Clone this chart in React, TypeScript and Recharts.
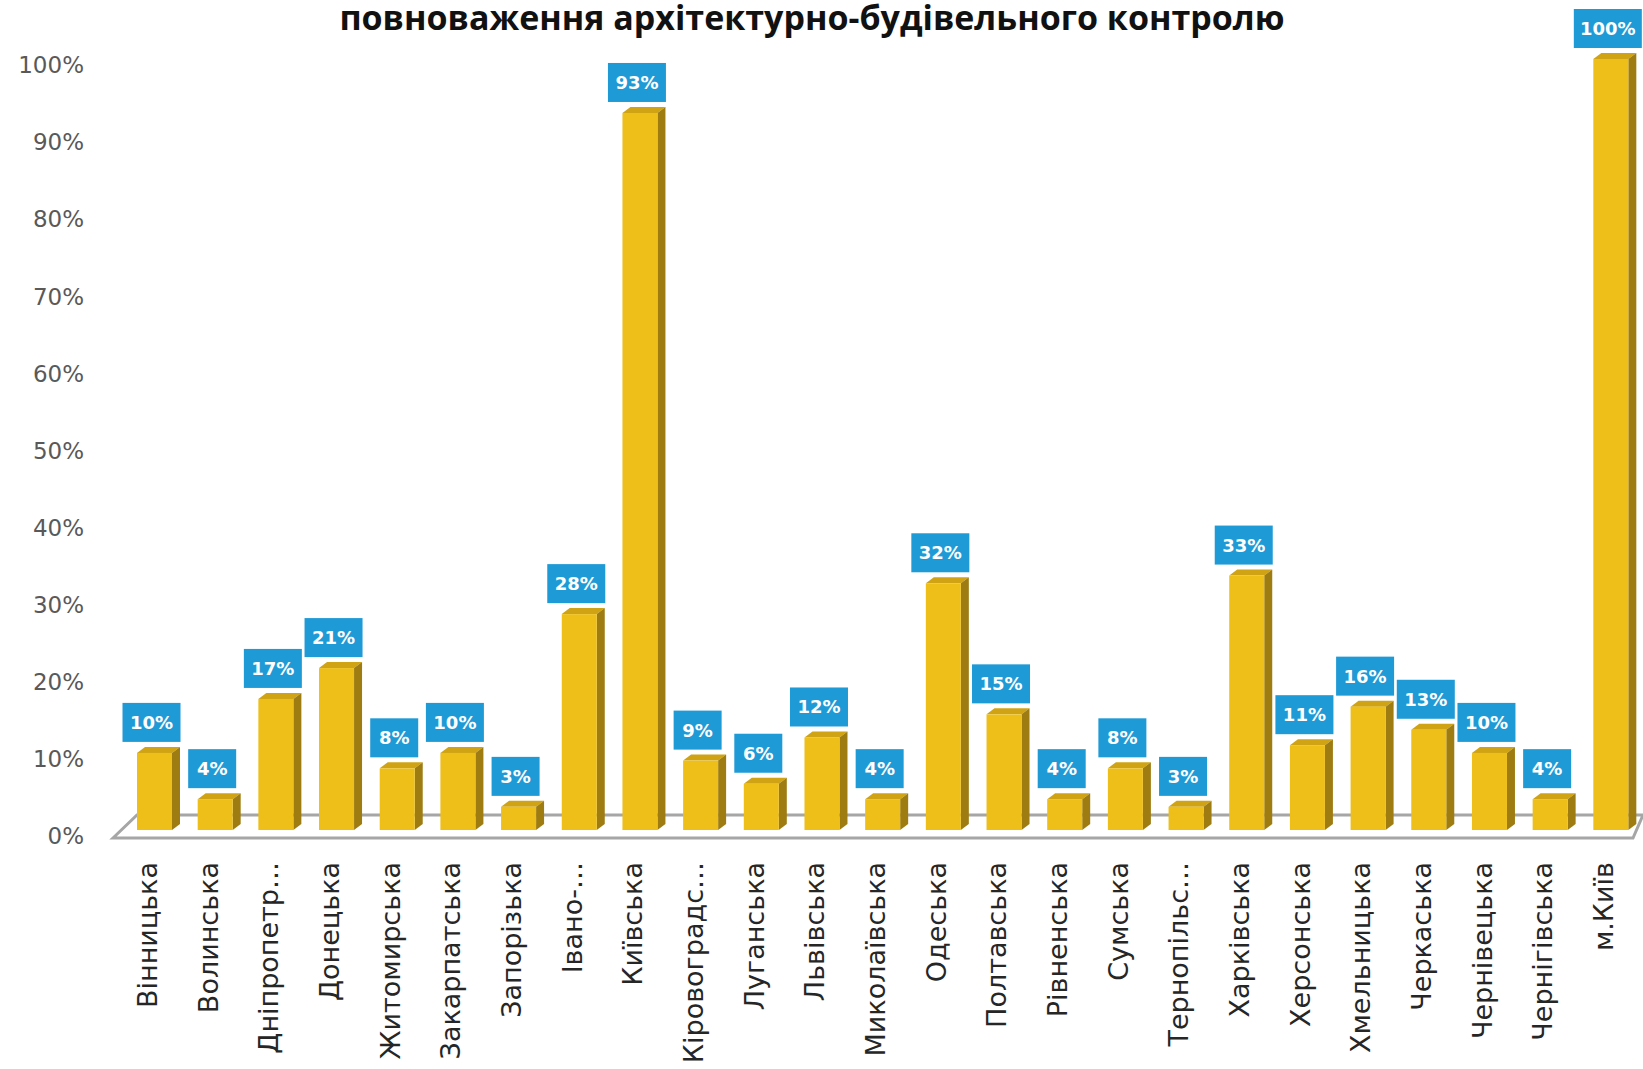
import { Bar, BarChart, LabelList, ReferenceLine, XAxis, YAxis } from "recharts"

// regions in the order they appear on the axis (labels truncated like in the source)
const regions = [
  "Вінницька", "Волинська", "Дніпропетр…", "Донецька", "Житомирська",
  "Закарпатська", "Запорізька", "Івано-…", "Київська", "Кіровоградс…",
  "Луганська", "Львівська", "Миколаївська", "Одеська", "Полтавська",
  "Рівненська", "Сумська", "Тернопільс…", "Харківська", "Херсонська",
  "Хмельницька", "Черкаська", "Чернівецька", "Чернігівська", "м.Київ",
]

// share, %
const shares = [10, 4, 17, 21, 8, 10, 3, 28, 93, 9, 6, 12, 4, 32, 15, 4, 8, 3, 33, 11, 16, 13, 10, 4, 100]

const percentTicks = [0, 10, 20, 30, 40, 50, 60, 70, 80, 90, 100]

const title = "повноваження архітектурно-будівельного контролю"

const GOLD = "#EEBF18"
const GOLD_SIDE = "#9E7C12"
const GOLD_TOP = "#CFA313"
const BLUE = "#1E9AD6"

// fake 3d depth of the columns
const DX = 8
const DY = 6

function Bar3D(props: any) {
  const { x, y, width, height } = props
  if (height == null || width == null) return null
  const r = x + width
  const b = y + height
  return (
    <g>
      <polygon points={`${x},${y} ${x + DX},${y - DY} ${r + DX},${y - DY} ${r},${y}`} fill={GOLD_TOP} />
      <polygon points={`${r},${y} ${r + DX},${y - DY} ${r + DX},${b - DY} ${r},${b}`} fill={GOLD_SIDE} />
      <rect x={x} y={y} width={width} height={height} fill={GOLD} />
    </g>
  )
}

function ValueTag(props: any) {
  const { x, y, width, value } = props
  const text = `${value}%`
  const w = 28 + 10 * text.length
  const h = 39
  const cx = Number(x) + Number(width) / 2 - 3
  const bottom = Number(y) - DY - 5
  return (
    <g>
      <rect x={cx - w / 2} y={bottom - h} width={w} height={h} fill={BLUE} />
      <text
        x={cx}
        y={bottom - h / 2}
        dy="0.36em"
        textAnchor="middle"
        fill="#fff"
        fontFamily="DejaVu Sans"
        fontWeight="bold"
        fontSize={18}
      >
        {text}
      </text>
    </g>
  )
}

function RegionTick({ x, y, payload }: any) {
  const tx = x - 7
  const ty = y + 32
  return (
    <text
      x={tx}
      y={ty}
      transform={`rotate(-90 ${tx} ${ty})`}
      textAnchor="end"
      dominantBaseline="central"
      fill="#262626"
      fontFamily="DejaVu Sans"
      fontSize={27}
    >
      {payload.value}
    </text>
  )
}

function PercentTick({ x, y, payload }: any) {
  return (
    <text x={x} y={y + 6} dy="0.36em" textAnchor="end" fill="#595959" fontFamily="DejaVu Sans" fontSize={23}>
      {`${payload.value}%`}
    </text>
  )
}

// the grey floor of the 3d chart
function Floor(props: any) {
  const { x1, y1, x2 } = props
  return (
    <polygon
      points={`${x1 - 11},${y1 + 8} ${x1 + 13},${y1 - 15} ${x2 + 2},${y1 - 15} ${x2 - 8},${y1 + 8}`}
      fill="none"
      stroke="#A6A6A6"
      strokeWidth={3}
    />
  )
}

function App() {
  const data = regions.map((name, i) => ({ name, value: shares[i] }))

  return (
    <div style={{ position: "absolute", left: 0, top: 0, width: 1643, height: 1069, background: "#fff" }}>
      <BarChart width={1643} height={1069} data={data} margin={{ top: 59, right: 2, left: 0, bottom: 39 }}>
        <ReferenceLine y={0} shape={Floor} zIndex={-10} />
        <XAxis
          dataKey="name"
          interval={0}
          axisLine={false}
          tickLine={false}
          tickSize={0}
          tickMargin={0}
          height={200}
          tick={<RegionTick />}
        />
        <YAxis
          width={124}
          domain={[0, 100]}
          ticks={percentTicks}
          axisLine={false}
          tickLine={false}
          tickSize={0}
          tickMargin={40}
          tick={<PercentTick />}
        />
        <Bar dataKey="value" barSize={35} shape={Bar3D} isAnimationActive={false}>
          <LabelList dataKey="value" content={<ValueTag />} />
        </Bar>
      </BarChart>
      <svg width={1643} height={60} style={{ position: "absolute", left: 0, top: 0 }}>
        <text x={812} y={30} textAnchor="middle" fill="#111" fontFamily="Open Sans" fontWeight="bold" fontSize={34}>
          {title}
        </text>
      </svg>
    </div>
  )
}

export default App
